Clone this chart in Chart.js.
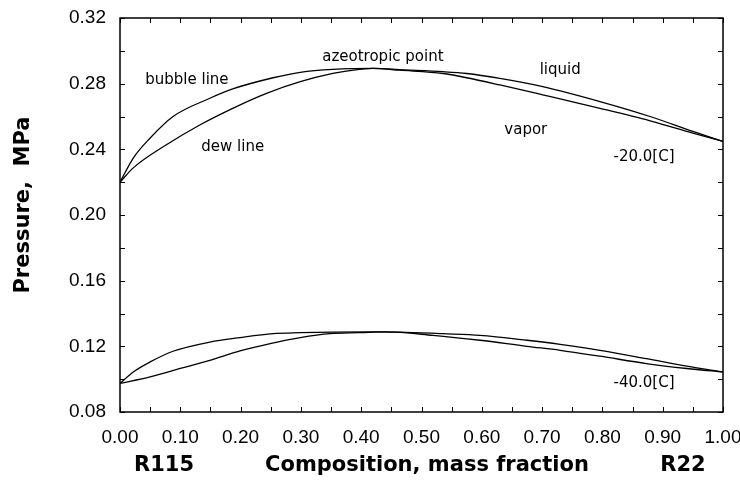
<!DOCTYPE html>
<html>
<head>
<meta charset="utf-8">
<title>R115 / R22 phase diagram</title>
<script src="https://cdn.jsdelivr.net/npm/chart.js@4.4.1/dist/chart.umd.min.js"></script>
<style>
  html, body { margin: 0; padding: 0; background: #fff; }
  canvas { display: block; }
</style>
</head>
<body>
<canvas id="chart" width="740" height="482"></canvas>
<script>
// mass fraction of R22 (0 = pure R115, 1 = pure R22) and pressure in MPa

// -20 C isotherm
const bubble20X = [0, 0.022, 0.05, 0.088, 0.149, 0.187, 0.254, 0.299, 0.353, 0.42, 0.464, 0.536, 0.575, 0.630, 0.701, 0.796, 0.879, 0.950, 1.0];
const bubble20P = [0.220, 0.2347, 0.2469, 0.2600, 0.2711, 0.2768, 0.2836, 0.2869, 0.2887, 0.2893, 0.2885, 0.2873, 0.2862, 0.2832, 0.2782, 0.2691, 0.2600, 0.2509, 0.2448];
const dew20X = [0, 0.022, 0.077, 0.133, 0.187, 0.243, 0.299, 0.353, 0.387, 0.42, 0.464, 0.536, 0.575, 0.630, 0.701, 0.796, 0.879, 0.950, 1.0];
const dew20P = [0.220, 0.2287, 0.2428, 0.2550, 0.2650, 0.2741, 0.2812, 0.2862, 0.2883, 0.2893, 0.2882, 0.2862, 0.2836, 0.2792, 0.2732, 0.2650, 0.2574, 0.2499, 0.2448];

// -40 C isotherm
const bubble40X = [0, 0.022, 0.05, 0.088, 0.149, 0.199, 0.254, 0.299, 0.353, 0.42, 0.464, 0.536, 0.597, 0.675, 0.730, 0.796, 0.873, 0.940, 1.0];
const bubble40P = [0.0974, 0.1044, 0.1105, 0.1170, 0.1226, 0.1253, 0.1277, 0.1283, 0.1287, 0.1288, 0.1287, 0.1277, 0.1267, 0.1237, 0.1212, 0.1176, 0.1125, 0.1079, 0.1044];
const dew40X = [0, 0.05, 0.1, 0.149, 0.199, 0.249, 0.299, 0.348, 0.398, 0.44, 0.519, 0.597, 0.675, 0.730, 0.796, 0.873, 0.940, 1.0];
const dew40P = [0.0974, 0.1014, 0.1065, 0.1115, 0.1172, 0.1217, 0.1253, 0.1277, 0.1283, 0.1288, 0.1267, 0.1237, 0.1200, 0.1176, 0.1140, 0.1095, 0.1065, 0.1044];

// axis ranges
const xMin = 0, xMax = 1, xStep = 0.05;
const yMin = 0.08, yMax = 0.32, yStep = 0.02;

// text written inside the plot, anchored in data units
const notes = [
  { text: 'bubble line', x: 0.111, y: 0.2822 },
  { text: 'dew line', x: 0.187, y: 0.2414 },
  { text: 'azeotropic point', x: 0.436, y: 0.2962 },
  { text: 'liquid', x: 0.730, y: 0.2883 },
  { text: 'vapor', x: 0.673, y: 0.2518 },
  { text: '-20.0[C]', x: 0.869, y: 0.2353 },
  { text: '-40.0[C]', x: 0.869, y: 0.0977 }
];

function toPoints(xs, ps) {
  return xs.map((v, i) => ({ x: v, y: ps[i] }));
}

function curve(xs, ps) {
  return {
    data: toPoints(xs, ps),
    showLine: true,
    borderColor: '#000',
    borderWidth: 1.3,
    pointRadius: 0,
    fill: false,
    cubicInterpolationMode: 'monotone'
  };
}

// frame, inward tick marks, notes and axis titles
const decorations = {
  id: 'decorations',
  afterDraw(chart) {
    const { ctx, chartArea: a, scales: { x, y } } = chart;
    ctx.save();
    ctx.strokeStyle = '#000';
    ctx.lineWidth = 1.5;
    ctx.strokeRect(a.left, a.top, a.right - a.left, a.bottom - a.top);

    ctx.lineWidth = 1;
    ctx.beginPath();
    x.ticks.forEach(t => {
      const px = Math.round(x.getPixelForValue(t.value)) + 0.5;
      ctx.moveTo(px, a.bottom); ctx.lineTo(px, a.bottom - 5);
      ctx.moveTo(px, a.top); ctx.lineTo(px, a.top + 5);
    });
    y.ticks.forEach(t => {
      const py = Math.round(y.getPixelForValue(t.value)) + 0.5;
      ctx.moveTo(a.left, py); ctx.lineTo(a.left + 5, py);
      ctx.moveTo(a.right, py); ctx.lineTo(a.right - 5, py);
    });
    ctx.stroke();

    ctx.fillStyle = '#000';
    ctx.textAlign = 'center';
    ctx.textBaseline = 'middle';
    ctx.font = '15px "DejaVu Sans"';
    notes.forEach(n => {
      ctx.fillText(n.text, x.getPixelForValue(n.x), y.getPixelForValue(n.y));
    });

    ctx.font = 'bold 21px "DejaVu Sans"';
    ctx.fillText('Composition, mass fraction', 427, 466);
    ctx.fillText('R115', 164, 466);
    ctx.fillText('R22', 683, 466);

    ctx.translate(24, 205);
    ctx.rotate(-Math.PI / 2);
    ctx.fillText('Pressure,  MPa', 0, 0);
    ctx.restore();
  }
};

Chart.defaults.font.family = '"Liberation Sans", Arial, sans-serif';
Chart.defaults.color = '#000';

new Chart(document.getElementById('chart'), {
  type: 'scatter',
  data: {
    datasets: [
      curve(bubble20X, bubble20P),
      curve(dew20X, dew20P),
      curve(bubble40X, bubble40P),
      curve(dew40X, dew40P)
    ]
  },
  options: {
    responsive: false,
    animation: false,
    devicePixelRatio: 1,
    layout: { padding: { top: 18, right: 17, left: 0, bottom: 0 } },
    plugins: {
      legend: { display: false },
      tooltip: { enabled: false }
    },
    scales: {
      x: {
        type: 'linear',
        min: xMin,
        max: xMax,
        afterFit: s => {
          s.height = 70;
          s.paddingLeft = 0;
          s.paddingRight = 0;
        },
        grid: { display: false, drawTicks: false },
        border: { display: false },
        ticks: {
          stepSize: xStep,
          autoSkip: false,
          maxRotation: 0,
          padding: 14,
          font: { size: 19 },
          callback: v => (Math.round(v * 100) % 10 === 0 ? v.toFixed(2) : '')
        }
      },
      y: {
        type: 'linear',
        min: yMin,
        max: yMax,
        afterFit: s => {
          s.width = 120;
          s.paddingTop = 0;
          s.paddingBottom = 0;
        },
        grid: { display: false, drawTicks: false },
        border: { display: false },
        ticks: {
          stepSize: yStep,
          autoSkip: false,
          padding: 14,
          font: { size: 19 },
          callback: v => (Math.round(v * 100) % 4 === 0 ? v.toFixed(2) : '')
        }
      }
    }
  },
  plugins: [decorations]
});
</script>
</body>
</html>
